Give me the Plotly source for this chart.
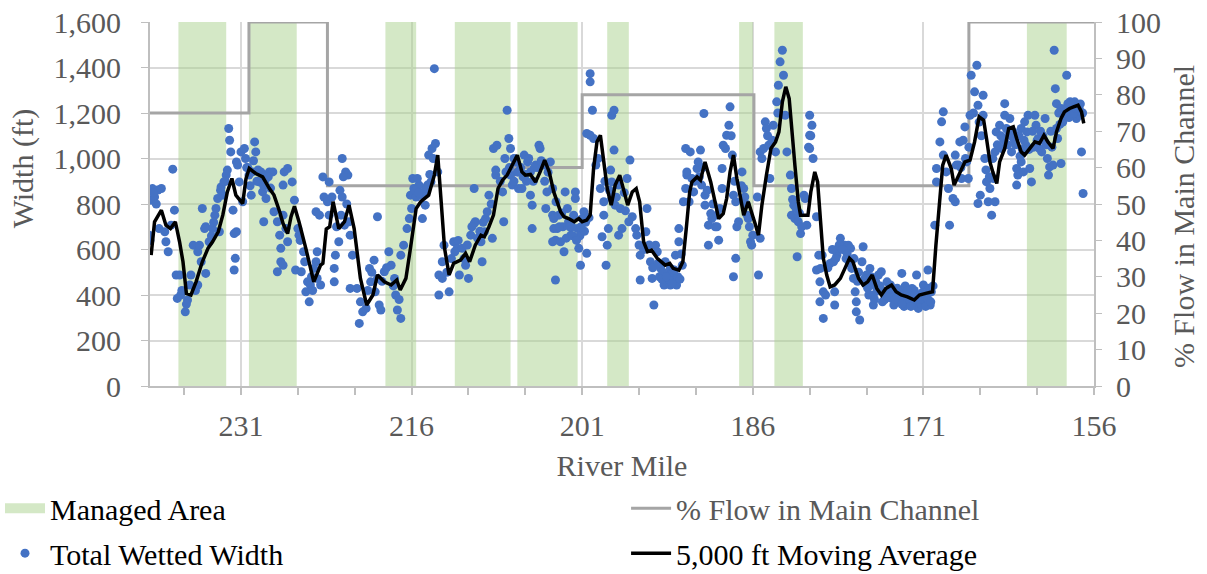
import plotly.graph_objects as go

# ---------------- data ----------------
managed_start = [236.5, 230.3, 218.3, 212.2, 206.7, 198.8, 187.2, 184.1, 161.9]
managed_end = [232.3, 226.1, 215.6, 207.3, 201.4, 196.9, 186.0, 181.6, 158.4]

flow_mile = [239.0, 230.3, 223.4, 207.0, 201.0, 185.9, 167.0, 156.0]
flow_pct = [75, 100, 55, 60, 80, 55, 100, 100]

wet_mile = [
    238.8, 238.3, 238.0, 238.9, 238.6, 237.0, 236.85, 239.05, 238.2, 237.7, 237.15, 237.6, 237.4, 236.7, 236.4,
    236.6, 236.3, 235.9, 235.7, 235.4, 235.5, 235.2, 234.8, 234.65, 234.4, 234.2, 234.1, 234.5, 234.1, 234.8,
    233.8, 233.5, 233.3, 233.2, 233.05, 232.75, 232.5, 232.3, 232.6, 232.2, 232.9, 232.08, 232.0, 231.9, 231.4,
    231.7, 231.6, 231.4, 231.5, 231.6, 231.3, 231.0, 230.7, 230.6, 231.15, 230.85, 230.3, 230.0, 229.8, 229.7,
    230.1, 229.4, 229.1, 229.25, 228.8, 228.5, 228.2, 229.0, 228.8, 228.1, 227.8, 227.6, 227.5, 227.8, 227.5,
    227.3, 235.0, 235.8, 236.2, 229.6, 229.0, 228.4, 230.4,
    227.2, 226.9, 226.5, 227.3, 227.05, 226.9, 226.3, 227.3, 226.0, 225.9, 226.2, 225.7, 225.4, 225.15, 225.3,
    225.0, 224.9, 224.6, 224.4, 224.3, 224.0, 224.3, 224.4, 224.1, 223.8, 223.25, 223.7, 223.4, 223.25, 223.0,
    222.8, 222.8, 222.7, 222.4, 222.2, 222.1, 221.8, 221.6, 222.1, 221.9, 221.5, 221.4, 221.2, 221.4, 220.8,
    220.5, 220.6, 220.3, 220.0, 219.7, 219.6, 219.3, 219.0, 219.2, 218.85, 218.7, 219.0, 218.4, 218.0, 217.8,
    217.5, 217.25, 216.95, 217.4, 216.95, 216.7, 216.4, 216.2, 215.9, 215.8, 216.1, 215.6,
    215.35, 215.2, 214.9, 214.6, 214.3, 215.05, 214.8, 215.5, 214.5, 214.2, 213.9, 214.0, 213.7, 213.15, 213.3,
    213.6, 213.3, 213.6, 212.7, 212.3, 212.0, 211.8, 211.0, 211.55, 211.25, 210.8, 210.5, 210.4, 210.5, 209.9,
    209.8, 209.6, 209.5, 209.35, 209.2, 208.9, 208.6, 208.6, 208.8, 208.5, 208.0, 207.9, 207.6, 207.45, 207.3,
    207.7, 207.3, 207.15, 206.85, 206.6, 206.3, 206.1, 205.8, 205.55, 205.55, 205.4, 205.4, 205.1, 204.8, 204.7,
    204.4, 204.1, 204.2, 203.8, 203.6, 203.5, 203.35, 203.35, 206.0, 205.3, 204.9, 206.4, 207.0,
    203.6, 203.3, 203.5, 203.6, 203.2, 203.05, 202.9, 202.5, 202.3, 202.2, 202.6, 202.0, 201.6, 201.6, 201.75,
    201.4, 201.3, 201.15, 200.85, 200.6, 201.0, 200.3, 200.3, 200.1, 200.6, 200.0, 200.3, 199.8, 199.4, 199.1,
    199.1, 199.25, 198.8, 198.7, 198.9, 198.4, 198.2, 198.2, 198.5, 198.4, 198.4, 198.1, 197.8, 197.65, 197.5,
    197.8, 197.05, 196.8, 196.9, 196.6, 196.3, 196.2, 195.9, 195.9, 195.4, 195.3, 195.0, 194.85, 194.7, 194.55,
    194.4, 194.1, 193.8, 193.5, 193.25, 193.25, 192.95, 192.8, 192.5, 192.2, 192.7, 193.7, 191.9, 191.8, 192.1,
    191.9, 192.5, 202.4, 201.9, 201.2, 200.8, 202.7, 194.2, 193.9, 193.4, 193.0, 192.6, 194.8,
    191.5, 191.8, 191.35, 191.2, 191.6, 190.9, 190.8, 190.6, 190.3, 190.5, 190.2, 190.2, 189.9, 189.7, 189.6,
    189.9, 189.15, 189.15, 189.0, 188.7, 188.7, 188.4, 188.6, 188.3, 188.1, 188.0, 187.8, 187.7, 187.5, 187.5,
    187.7, 187.4, 187.25, 186.95, 186.8, 186.7, 186.5, 186.4, 186.2, 186.1, 186.0, 185.6, 185.5, 185.35, 185.35,
    185.05, 184.9, 184.8, 184.6, 184.2, 184.5, 184.0, 183.9, 183.75, 183.6, 183.4, 183.3, 183.15, 183.0, 182.7,
    182.6, 182.4, 182.6, 182.3, 182.0, 181.8, 182.1, 181.5, 181.4, 181.25, 181.0, 180.8, 181.0, 181.0, 180.7,
    180.4, 180.2, 180.4, 180.1, 180.1, 179.8, 179.8,
    179.6, 179.9, 180.05, 179.2, 178.9, 178.8, 178.8, 178.6, 178.5, 178.3, 178.2, 177.9, 177.6, 177.4, 177.3,
    177.15, 177.0, 176.9, 176.9, 176.6, 176.3, 176.4, 176.0, 175.7, 175.7, 175.4, 175.4, 175.1, 174.95, 174.7,
    174.5, 174.2, 173.9, 173.8, 173.6, 173.35, 173.05, 172.9, 172.8, 172.5, 172.3, 172.0, 171.7, 171.6, 171.45,
    171.3, 171.0, 170.7, 170.6, 170.4, 170.3, 170.0, 169.85, 169.85, 169.55, 169.4, 169.25, 169.25, 169.0, 168.8,
    168.7, 168.4, 168.2, 168.1, 167.8, 177.8, 177.5, 176.2, 175.9, 175.2, 174.4, 173.7, 173.2, 172.7, 172.2,
    171.9, 171.2, 170.9, 170.5, 175.6, 174.0, 176.7, 172.6, 171.8,
    167.9, 167.65, 168.2, 167.5, 167.35, 167.2, 167.05, 166.9, 166.8, 166.3, 166.5, 166.2, 165.75, 166.0, 166.2,
    165.75, 165.6, 165.45, 165.3, 165.0, 164.7, 165.15, 164.85, 164.7, 164.6, 164.3, 164.1, 163.85, 163.85, 163.7,
    163.4, 163.25, 163.1, 162.8, 162.8, 162.7, 162.4, 162.2, 162.4, 162.1, 161.9, 161.8, 161.5, 161.65, 161.2,
    161.1, 160.9, 160.8, 160.6, 160.3, 160.0, 159.9, 159.6, 159.3, 159.2, 159.4, 159.3, 159.5, 158.9, 158.9,
    158.6, 158.4, 158.3, 158.0, 157.7, 157.55, 157.4, 157.25, 157.1, 156.96, 163.0, 162.6, 162.0, 161.4, 161.0,
    160.5, 160.2, 159.8, 163.6, 162.3, 164.0, 159.0, 158.2, 157.9, 157.3,
    # additional points in the dense clusters
    238.7, 238.45, 239.0, 233.6, 233.4, 232.8, 232.4, 230.5, 230.2, 229.9, 229.5, 228.9, 228.6,
    225.8, 225.5, 224.8, 224.7, 222.6, 222.3, 222.0, 221.7, 219.85, 219.5, 218.6, 218.2, 217.6, 217.1,
    216.0, 215.7, 215.4, 214.7, 214.4, 214.1, 212.9, 212.5, 212.2, 211.9, 211.4, 211.1, 210.7, 210.2,
    210.0, 209.7, 209.0, 208.2, 207.8, 207.4, 207.0, 206.7, 206.2, 205.9, 205.7, 205.2, 204.6, 204.3,
    204.0, 203.0, 202.8, 202.1, 201.8, 201.5, 201.1, 200.7, 200.4, 199.6, 199.0, 198.6, 198.0, 197.3,
    197.2, 196.0, 195.6, 195.1, 194.3, 194.0, 193.6, 193.1, 192.9, 192.4, 192.3, 191.1, 190.7, 190.4,
    190.0, 189.5, 189.3, 188.9, 187.9, 187.6, 187.0, 186.6, 186.3, 185.2, 184.7, 184.3, 183.8, 182.5,
    182.2, 181.9, 181.7, 181.1, 180.9, 179.4, 179.0, 178.7, 178.4, 178.1, 177.7, 177.1, 176.8, 176.1,
    175.8, 175.3, 175.0, 174.8, 174.6, 174.1, 173.5, 173.3, 172.9, 172.6, 172.4, 172.1, 171.75, 171.5,
    171.1, 170.8, 170.6, 170.35, 170.15, 167.7, 167.3, 167.0, 166.6, 166.1, 165.9, 165.5, 165.2, 164.9,
    164.5, 164.2, 163.9, 163.5, 163.3, 162.9, 162.5, 162.15, 161.7, 161.3, 160.7, 160.4, 160.1, 159.7,
    159.1, 158.75, 158.5, 158.1, 157.8, 157.6, 157.2, 157.0,
]
wet_ft = [
    868, 861, 868, 817, 831, 953, 773, 663, 692, 678, 707, 634, 590, 488, 488,
    385, 400, 326, 378, 488, 444, 619, 590, 619, 780, 692, 700, 546, 495, 444,
    634, 692, 751, 780, 824, 875, 897, 927, 839, 949, 678, 1132, 1080, 1029, 985,
    773, 670, 678, 561, 510, 971, 1029, 1044, 1000, 897, 810, 927, 941, 1073, 1029,
    839, 897, 853, 941, 927, 941, 941, 722, 824, 766, 722, 663, 605, 502, 546,
    883, 420, 360, 420, 900, 880, 870, 960,
    941, 956, 897, 751, 692, 634, 817, 531, 692, 663, 510, 502, 546, 458, 414,
    370, 444, 517, 546, 590, 444, 473, 766, 751, 919, 897, 831, 810, 751, 831,
    517, 458, 575, 634, 751, 1000, 941, 927, 831, 707, 722, 663, 575, 429, 429,
    370, 275, 326, 341, 517, 458, 553, 473, 414, 356, 334, 744, 502, 590, 531,
    473, 334, 297, 400, 575, 619, 692, 736, 912, 868, 839, 831,
    883, 839, 853, 883, 897, 736, 795, 912, 1015, 1044, 1066, 1395, 941, 619, 546,
    488, 473, 400, 414, 634, 605, 488, 473, 605, 531, 663, 714, 722, 868, 634,
    546, 678, 736, 766, 839, 649, 927, 949, 1044, 1058, 853, 722, 1212, 1088, 1044,
    941, 927, 883, 985, 868, 868, 1015, 985, 941, 839, 795, 692, 971, 1058, 1044,
    971, 853, 780, 985, 751, 692, 641, 466, 930, 900, 960, 960, 900,
    868, 810, 736, 634, 692, 751, 634, 853, 780, 722, 590, 663, 853, 824, 751,
    692, 605, 531, 766, 583, 736, 1373, 1337, 1212, 1110, 1088, 1102, 971, 868, 810,
    751, 656, 619, 692, 531, 1190, 1212, 1037, 949, 897, 824, 795, 883, 780, 692,
    663, 912, 993, 722, 744, 692, 663, 575, 466, 678, 780, 546, 473, 356, 619,
    590, 517, 444, 488, 517, 444, 473, 575, 634, 531, 444, 546, 1044, 927, 810,
    868, 692, 650, 700, 660, 680, 700, 480, 500, 470, 500, 480, 520,
    1029, 941, 912, 853, 810, 956, 985, 1037, 1198, 883, 839, 795, 707, 758, 736,
    619, 751, 700, 641, 868, 956, 1044, 1058, 1102, 1146, 1227, 1015, 839, 810, 561,
    480, 700, 722, 941, 868, 831, 751, 736, 634, 619, 663, 831, 488, 649, 1029,
    1044, 1161, 1132, 1058, 1146, 912, 1029, 1249, 1322, 1425, 1476, 1366, 1190, 1029, 927,
    868, 795, 751, 736, 722, 670, 568, 839, 824, 707, 1190, 1146, 1102, 1044, 1000,
    744, 575, 510, 458, 370, 297, 414,
    400, 575, 517, 539, 546, 414, 356, 575, 605, 649, 605, 619, 619, 605, 517,
    473, 414, 370, 326, 290, 612, 546, 488, 517, 444, 400, 356, 429, 488, 502,
    414, 458, 444, 385, 356, 400, 370, 495, 414, 385, 356, 429, 370, 488, 341,
    400, 444, 400, 510, 356, 414, 707, 897, 956, 1073, 1161, 1205, 1015, 941, 868,
    707, 824, 1015, 971, 1073, 560, 540, 470, 430, 460, 380, 420, 390, 350, 380,
    395, 360, 380, 430, 480, 410, 500, 440, 420,
    971, 912, 810, 1080, 1139, 985, 912, 1190, 1366, 1410, 1293, 1234, 1278, 839, 802,
    1190, 1000, 897, 810, 751, 810, 868, 912, 1029, 1117, 1146, 1044, 1241, 1190, 1132,
    1176, 1029, 1117, 956, 883, 927, 985, 941, 1132, 1161, 1117, 1190, 897, 956, 1190,
    1146, 1088, 1044, 1029, 1176, 927, 963, 971, 1132, 1088, 1307, 1241, 1476, 978, 1220,
    1190, 1366, 1241, 1205, 1249, 1176, 1234, 1190, 1029, 846, 1080, 1100, 1060, 1120, 1080,
    1100, 1060, 1120, 1060, 1040, 1090, 1150, 1180, 1230, 1220,
    # additional points in the dense clusters
    850, 800, 640, 660, 720, 860, 900, 960, 880, 990, 950, 900, 920,
    640, 590, 480, 420, 700, 860, 920, 800, 420, 500, 460, 520, 440, 380,
    780, 860, 850, 870, 930, 1000, 500, 560, 590, 640, 560, 620, 700, 650,
    680, 720, 800, 900, 1000, 960, 1000, 940, 920, 900, 1000, 960, 990, 900,
    940, 700, 760, 700, 660, 640, 700, 720, 740, 1000, 900, 860, 830, 850,
    770, 620, 600, 620, 540, 470, 480, 450, 510, 470, 580, 900, 920, 960,
    860, 800, 700, 780, 1100, 900, 880, 800, 700, 1000, 1100, 1080, 1200, 820,
    780, 760, 700, 1050, 1100, 520, 600, 560, 620, 600, 580, 560, 460, 450,
    400, 380, 420, 440, 370, 390, 380, 430, 360, 400, 420, 350, 400, 380,
    410, 350, 380, 370, 440, 960, 1000, 1050, 1200, 1160, 1100, 950, 920, 1000,
    1060, 1100, 1080, 1120, 1100, 1060, 1010, 1080, 1040, 1050, 1120, 1080, 1000, 1050,
    1200, 1160, 1220, 1250, 1200, 1220, 1240, 1200,
]

ma_mile = [
    238.9, 238.6, 238.0, 237.6, 237.2, 236.77, 236.4, 236.1, 235.8, 235.4, 234.95, 234.4, 233.9, 233.5, 233.0,
    232.6, 232.2, 231.8, 231.45, 230.85, 230.56, 230.27, 229.7, 229.1, 228.5, 228.1, 227.6, 227.3, 226.9, 226.6,
    226.3, 225.9, 225.3, 224.6, 224.0, 223.8, 223.5, 223.2, 222.9, 222.4, 221.9, 221.5, 221.05, 220.5, 219.95,
    219.4, 219.0, 218.4, 217.8, 217.3, 217.0, 216.5, 216.1, 215.6, 215.2, 214.9, 214.5, 214.0, 213.7, 213.4,
    213.1, 212.7, 212.3, 211.7, 211.25, 210.9, 210.4, 209.9, 209.6, 209.2, 208.8, 208.4, 208.0, 207.6, 207.15,
    206.7, 206.3, 206.0, 205.55, 205.1, 204.7, 204.3, 203.9, 203.5, 202.9, 202.6, 202.2, 201.7, 201.3, 201.0,
    200.6, 200.3, 200.0, 199.7, 199.4, 199.15, 198.8, 198.45, 198.1, 197.7, 197.35, 197.0, 196.6, 196.25, 195.95,
    195.6, 195.25, 194.9, 194.4, 194.0, 193.7, 193.3, 193.0, 192.5, 192.15, 191.85, 191.55, 191.35, 190.9, 190.6,
    190.2, 189.7, 189.3, 189.0, 188.6, 188.3, 188.0, 187.7, 187.4, 187.1, 186.8, 186.4, 186.1, 185.8, 185.5,
    185.2, 184.8, 184.4, 184.0, 183.7, 183.4, 183.1, 182.8, 182.6, 182.3, 182.0, 181.8, 181.5, 181.15, 180.9,
    180.55, 180.3, 180.05, 179.8, 179.5, 179.2, 178.8, 178.3, 177.9, 177.5, 177.2, 176.7, 176.3, 175.9, 175.5,
    175.1, 174.7, 174.3, 173.8, 173.4, 172.95, 172.4, 171.8, 171.35, 170.8, 170.2, 169.9, 169.6, 169.3, 169.0,
    168.55, 168.3, 167.8, 167.35, 166.9, 166.5, 166.1, 165.7, 165.45, 165.15, 164.9, 164.55, 164.3, 163.85, 163.5,
    163.1, 162.8, 162.4, 162.1, 161.65, 161.2, 160.8, 160.4, 160.05, 159.6, 159.3, 158.9, 158.6, 158.15, 157.8,
    157.4, 157.1, 156.9,
]
ma_ft = [
    575, 722, 773, 707, 692, 722, 634, 546, 407, 400, 458, 546, 605, 634, 678,
    751, 853, 912, 839, 802, 912, 956, 934, 919, 868, 839, 766, 714, 670, 744,
    790, 722, 605, 458, 531, 539, 690, 700, 810, 692, 722, 795, 692, 473, 356,
    400, 488, 458, 444, 466, 422, 473, 605, 780, 810, 824, 839, 927, 1015, 810,
    605, 488, 539, 553, 583, 546, 619, 663, 656, 700, 751, 868, 905, 927, 971,
    1015, 941, 927, 930, 897, 941, 993, 941, 853, 766, 744, 736, 722, 736, 722,
    729, 751, 956, 1073, 1102, 1015, 868, 795, 883, 927, 853, 795, 853, 868, 810,
    634, 590, 597, 561, 546, 531, 539, 517, 509, 546, 692, 853, 897, 919, 905,
    985, 897, 810, 736, 758, 824, 941, 1015, 912, 824, 751, 810, 766, 714, 663,
    795, 927, 1044, 1073, 1117, 1249, 1315, 1263, 1132, 971, 810, 751, 751, 751, 853,
    941, 897, 751, 561, 488, 436, 444, 473, 517, 561, 546, 473, 444, 458, 488,
    429, 400, 429, 444, 414, 400, 392, 378, 400, 407, 414, 619, 810, 971, 1015,
    956, 883, 941, 985, 993, 1073, 1183, 1168, 1088, 985, 941, 890, 985, 1044, 1132,
    1139, 1088, 1029, 1015, 1044, 1073, 1066, 1102, 1073, 1044, 1117, 1176, 1205, 1220, 1227,
    1234, 1205, 1154,
]

# ---------------- styling ----------------
FONT = "'Liberation Serif', 'Times New Roman', Times, serif"
GREY_TXT = "#595959"
GREEN = "rgba(169,209,142,0.5)"
AXIS_GREY = "#bfbfbf"
GRID = "#d9d9d9"
FS = 30

centers = [(a + b) / 2 for a, b in zip(managed_start, managed_end)]
widths = [abs(a - b) for a, b in zip(managed_start, managed_end)]

fig = go.Figure()

# Managed areas (full-height bars on the % axis, drawn beneath everything)
fig.add_trace(go.Bar(
    x=centers, y=[100] * len(centers), width=widths, yaxis="y",
    marker=dict(color=GREEN, line=dict(width=0)),
    showlegend=False, hoverinfo="skip", name="Managed Area",
))
# % Flow in Main Channel (step line)
fig.add_trace(go.Scatter(
    x=flow_mile, y=flow_pct, yaxis="y", mode="lines",
    line=dict(color="#a5a5a5", width=3, shape="hv"),
    name="<span style='color:#595959'>% Flow in Main Channel</span>",
    legend="legend2", legendgroup="g3", legendrank=1,
))
# Legend entry for managed area
fig.add_trace(go.Scatter(
    x=[None], y=[None], yaxis="y2", mode="lines",
    line=dict(color="rgb(212,232,198)", width=18),
    name="Managed Area", legend="legend", legendgroup="g1", legendrank=1,
))
# Total wetted width
fig.add_trace(go.Scatter(
    x=wet_mile, y=wet_ft, yaxis="y2", mode="markers",
    marker=dict(color="#4472c4", size=9),
    name="Total Wetted Width", legend="legend", legendgroup="g2", legendrank=2,
))
# Moving average
fig.add_trace(go.Scatter(
    x=ma_mile, y=ma_ft, yaxis="y2", mode="lines",
    line=dict(color="black", width=3.5),
    name="5,000 ft Moving Average", legend="legend2", legendgroup="g4", legendrank=2,
))

title_font = dict(family=FONT, size=FS, color=GREY_TXT)

fig.update_layout(
    width=1207, height=574, autosize=False,
    margin=dict(l=150, r=113, t=22, b=188, pad=0, autoexpand=False),
    paper_bgcolor="white", plot_bgcolor="white",
    font=dict(family=FONT, size=FS, color=GREY_TXT),
    barmode="overlay",
    xaxis=dict(
        range=[239, 156], tick0=156, dtick=15, showgrid=True, gridcolor=GRID, gridwidth=2,
        showline=True, linecolor=AXIS_GREY, linewidth=2, automargin=False,
        ticks="outside", ticklen=7, tickcolor=AXIS_GREY, tickwidth=1.5,
        minor=dict(dtick=5, tick0=156, ticks="outside", ticklen=7, tickcolor=AXIS_GREY, tickwidth=1.5, showgrid=False),
        tickfont=title_font, ticklabelstandoff=5,
        title=dict(text="River Mile", font=title_font, standoff=14),
        zeroline=False,
    ),
    yaxis=dict(
        range=[0, 100], dtick=10, side="right", showgrid=False, zeroline=False,
        showline=True, linecolor=AXIS_GREY, linewidth=2, automargin=False,
        ticks="outside", ticklen=6, tickcolor=AXIS_GREY,
        tickfont=title_font, ticklabelstandoff=8,
    ),
    yaxis2=dict(
        range=[0, 1600], dtick=200, tickformat=",", overlaying="y", side="left",
        showgrid=True, gridcolor=GRID, gridwidth=2, zeroline=False,
        showline=True, linecolor=AXIS_GREY, linewidth=2, automargin=False,
        ticks="outside", ticklen=7, tickcolor=AXIS_GREY,
        tickfont=title_font, ticklabelstandoff=14,
    ),
    annotations=[
        dict(text="Width (ft)", xref="paper", yref="paper", x=-0.1345, y=0.598,
             textangle=-90, showarrow=False, xanchor="center", yanchor="middle", font=title_font),
        dict(text="% Flow in Main Channel", xref="paper", yref="paper", x=1.0943, y=0.464,
             textangle=-90, showarrow=False, xanchor="center", yanchor="middle", font=title_font),
    ],
    legend=dict(
        xref="container", yref="container",
        x=0.0, y=0.16, xanchor="left", yanchor="top", orientation="v",
        font=dict(family=FONT, size=FS, color="black"), bgcolor="rgba(0,0,0,0)",
        itemwidth=40, tracegroupgap=3, traceorder="grouped",
    ),
    legend2=dict(
        xref="container", yref="container",
        x=0.5187, y=0.16, xanchor="left", yanchor="top", orientation="v",
        font=dict(family=FONT, size=FS, color="black"), bgcolor="rgba(0,0,0,0)",
        itemwidth=40, tracegroupgap=3, traceorder="grouped",
    ),
)

fig.write_html("out.html", config={"displayModeBar": False},
               post_script="document.body.style.margin='0';")
